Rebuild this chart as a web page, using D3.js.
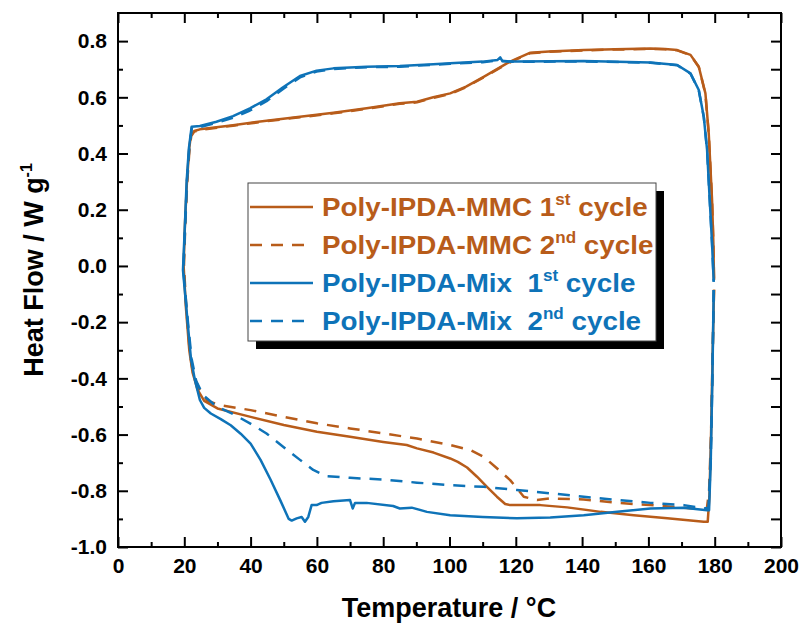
<!DOCTYPE html>
<html>
<head>
<meta charset="utf-8">
<script src="https://cdn.jsdelivr.net/npm/d3@7"></script>
<style>
  body { margin: 0; background: #fff; }
  text { font-family: "Liberation Sans", Arial, sans-serif; font-weight: bold; }
</style>
</head>
<body>
<div id="chart"></div>
<script>
// ---- data (temperature in °C, heat flow in W/g) ----
// each loop: right edge -> cooling branch (bottom) -> left edge -> heating branch (top)
const mmc1T = [179.8,179.4,178.9,178.4,177.9,176.7,165.7,155.6,145.6,135.5,127.4,118.3,116.8,114.3,111.3,108.3,105.3,102.5,100.2,95.2,90.2,87.1,80,70,60,50,40,30,26,24,22.5,21.5,20.5,19.8,20.2,20.8,21.5,22,23,24.7,34.7,44.8,54.9,65,75,85,90.2,95.1,100.2,105,110.3,117.3,120.3,124.4,130,140.5,150,160.6,165,168.7,172.7,175.2,177.2,178.2,179.2,179.6,179.8];
const mmc1H = [-0.085,-0.3,-0.6,-0.82,-0.91,-0.91,-0.898,-0.887,-0.875,-0.859,-0.851,-0.851,-0.847,-0.821,-0.786,-0.75,-0.717,-0.697,-0.685,-0.664,-0.649,-0.637,-0.626,-0.608,-0.59,-0.566,-0.537,-0.507,-0.48,-0.44,-0.38,-0.3,-0.15,0,0.15,0.3,0.42,0.465,0.48,0.486,0.501,0.517,0.531,0.545,0.561,0.579,0.584,0.6,0.614,0.638,0.673,0.721,0.738,0.759,0.763,0.768,0.771,0.774,0.772,0.768,0.751,0.709,0.614,0.472,0.235,0.08,-0.05];

const mmc2T = [179.8,179.4,178.9,178.3,177.6,176.7,170.7,160.6,150.6,140.5,130.4,126.4,122.4,118.3,114.3,110.3,106.3,100.2,90.2,80,70,60,50,40,30.7,27,24.5,22.6,21.6,20.6,19.9,20.3,20.9,21.6,22.1,23,24.7,34.7,44.8,54.9,65,75,85,90.2,95.1,100.2,105,110.3,117.3,120.3,124.4,130,140.5,150,160.6,165,168.7,172.7,175.2,177.2,178.2,179.2,179.6,179.8];
const mmc2H = [-0.085,-0.3,-0.6,-0.8,-0.866,-0.866,-0.86,-0.851,-0.843,-0.831,-0.827,-0.833,-0.821,-0.762,-0.72,-0.679,-0.655,-0.637,-0.614,-0.596,-0.578,-0.56,-0.537,-0.513,-0.495,-0.48,-0.44,-0.38,-0.3,-0.15,0,0.15,0.3,0.42,0.462,0.478,0.484,0.499,0.515,0.529,0.543,0.559,0.577,0.582,0.598,0.612,0.636,0.671,0.719,0.736,0.757,0.762,0.767,0.77,0.772,0.771,0.767,0.75,0.708,0.612,0.47,0.235,0.08,-0.05];

const mix1T = [179.7,179.3,178.8,178.3,177.7,170.7,160.6,150.6,140.5,130.4,120.3,110,100.2,93.2,88.6,85,83,75,71.5,70.8,70,65,61.4,59.9,58.4,57.4,56.4,55.4,53.9,52.4,51.5,49,46,43,40,37,34,31,28,26,24.7,23.2,22,21,19.6,20.2,20.7,21.4,22.2,24.7,29.7,34.7,39.8,44.8,49.8,54.9,59.9,65,75,85,95.1,100.2,110,114.5,115.3,116,120.3,140.5,160.6,168.7,172.7,175.2,176.7,177.7,178.5,179.2,179.7];
const mix1H = [-0.086,-0.4,-0.7,-0.869,-0.869,-0.86,-0.863,-0.875,-0.887,-0.895,-0.898,-0.893,-0.887,-0.875,-0.86,-0.863,-0.854,-0.843,-0.843,-0.863,-0.833,-0.837,-0.843,-0.851,-0.851,-0.893,-0.91,-0.893,-0.898,-0.906,-0.9,-0.835,-0.76,-0.69,-0.632,-0.597,-0.567,-0.545,-0.525,-0.505,-0.477,-0.406,-0.33,-0.2,-0.015,0.15,0.3,0.42,0.495,0.498,0.513,0.533,0.561,0.593,0.636,0.676,0.695,0.703,0.709,0.711,0.718,0.721,0.727,0.733,0.742,0.728,0.727,0.729,0.724,0.715,0.685,0.626,0.531,0.413,0.235,0.08,-0.056];

const mix2T = [179.7,179.3,178.8,178.1,176.7,170.7,160.6,150.6,140.5,130.4,120.3,110.3,100.2,90.2,80,70,62.9,58.9,54.9,49.8,44.8,39.8,34.7,29.7,25.7,23.6,22.2,21.1,19.7,20.3,20.8,21.5,22.3,24.7,29.7,34.7,39.8,44.8,49.8,54.9,59.9,65,75,85,95.1,100.2,110,114.5,120.3,140.5,160.6,168.7,172.7,175.2,176.7,177.7,178.5,179.2,179.7];
const mix2H = [-0.086,-0.4,-0.7,-0.86,-0.863,-0.851,-0.843,-0.833,-0.821,-0.809,-0.797,-0.786,-0.78,-0.771,-0.76,-0.754,-0.748,-0.726,-0.69,-0.643,-0.596,-0.56,-0.527,-0.5,-0.46,-0.41,-0.33,-0.2,-0.015,0.15,0.3,0.42,0.492,0.494,0.509,0.527,0.553,0.586,0.63,0.671,0.692,0.701,0.707,0.709,0.716,0.719,0.725,0.731,0.726,0.728,0.723,0.714,0.684,0.625,0.53,0.412,0.235,0.08,-0.056];

const seriesNames = ["Poly-IPDA-MMC 1", "Poly-IPDA-MMC 2", "Poly-IPDA-Mix  1", "Poly-IPDA-Mix  2"];
const seriesSup = ["st", "nd", "st", "nd"];
const seriesColors = ["#B85C1A", "#B85C1A", "#0E73B8", "#0E73B8"];
const seriesDash = [null, "12,9", null, "12,9"];

const xTicks = [0, 20, 40, 60, 80, 100, 120, 140, 160, 180, 200];
const yTicks = [-1.0, -0.8, -0.6, -0.4, -0.2, 0.0, 0.2, 0.4, 0.6, 0.8];

// ---- layout ----
const W = 802, H = 627;
const margin = {top: 13, right: 21, bottom: 80, left: 118};
const w = W - margin.left - margin.right;
const h = H - margin.top - margin.bottom;

const svg = d3.select("#chart").append("svg")
  .attr("width", W).attr("height", H);

const g = svg.append("g").attr("transform", `translate(${margin.left},${margin.top})`);

const x = d3.scaleLinear().domain([0, 200]).range([0, w]);
const y = d3.scaleLinear().domain([-1.0, 0.9]).range([h, 0]);

// minor ticks
const xMinor = d3.range(10, 200, 20);
const yMinor = d3.range(-0.9, 0.9, 0.2).map(v => +v.toFixed(1));

function styleAxis(sel) {
  sel.select(".domain").remove();
  sel.selectAll("line").attr("stroke", "#000").attr("stroke-width", 2);
  sel.selectAll("text").attr("fill", "#000").style("font-size", "21px").style("font-weight", "bold");
}

// bottom
g.append("g").attr("transform", `translate(0,${h})`)
  .call(d3.axisBottom(x).tickValues(xTicks).tickSizeInner(-10).tickPadding(11).tickFormat(d3.format("d")))
  .call(styleAxis);
g.append("g").attr("transform", `translate(0,${h})`)
  .call(d3.axisBottom(x).tickValues(xMinor).tickSizeInner(-5).tickFormat(""))
  .call(styleAxis);
// top
g.append("g")
  .call(d3.axisTop(x).tickValues(xTicks).tickSizeInner(-10).tickFormat(""))
  .call(styleAxis);
g.append("g")
  .call(d3.axisTop(x).tickValues(xMinor).tickSizeInner(-5).tickFormat(""))
  .call(styleAxis);
// left
g.append("g")
  .call(d3.axisLeft(y).tickValues(yTicks).tickSizeInner(-10).tickPadding(11).tickFormat(d3.format(".1f")))
  .call(styleAxis);
g.append("g")
  .call(d3.axisLeft(y).tickValues(yMinor).tickSizeInner(-5).tickFormat(""))
  .call(styleAxis);
// right
g.append("g").attr("transform", `translate(${w},0)`)
  .call(d3.axisRight(y).tickValues(yTicks.concat(yMinor)).tickSizeInner(-10).tickFormat(""))
  .call(styleAxis);

// y labels use a hyphen like the original
g.selectAll("text").each(function() {
  const t = d3.select(this);
  t.text(t.text().replace("−", "-"));
});

// frame
g.append("rect").attr("width", w).attr("height", h)
  .attr("fill", "none").attr("stroke", "#000").attr("stroke-width", 2);

// curves
const loops = [[mmc1T, mmc1H], [mmc2T, mmc2H], [mix1T, mix1H], [mix2T, mix2H]];
const line = d3.line().x(d => x(d[0])).y(d => y(d[1]));
const drawOrder = [0, 1, 3, 2];
drawOrder.forEach(i => {
  const pts = loops[i][0].map((t, k) => [t, loops[i][1][k]]);
  g.append("path").datum(pts)
    .attr("d", line)
    .attr("fill", "none")
    .attr("stroke", seriesColors[i])
    .attr("stroke-width", 2.5)
    .attr("stroke-linejoin", "round")
    .attr("stroke-dasharray", seriesDash[i]);
});

// legend
const lg = svg.append("g").attr("transform", "translate(248,183)");
lg.append("rect").attr("x", 8).attr("y", 8).attr("width", 408).attr("height", 158).attr("fill", "#000");
lg.append("rect").attr("width", 408).attr("height", 158).attr("fill", "#fff").attr("stroke", "#444").attr("stroke-width", 1);
seriesNames.forEach((name, i) => {
  const yy = 24 + i * 38;
  lg.append("line").attr("x1", 2).attr("x2", 65).attr("y1", yy).attr("y2", yy)
    .attr("stroke", seriesColors[i]).attr("stroke-width", 2.5)
    .attr("stroke-dasharray", seriesDash[i]);
  const t = lg.append("text").attr("transform", `translate(74,${yy + 9}) scale(1.07,1)`)
    .attr("fill", seriesColors[i]).style("font-size", "26px")
    .style("white-space", "pre").attr("xml:space", "preserve");
  t.append("tspan").text(name);
  t.append("tspan").text(seriesSup[i]).style("font-size", "16px").attr("dy", -11);
  t.append("tspan").text(" cycle").attr("dy", 11);
});

// axis titles
svg.append("text").attr("x", 449).attr("y", 617).attr("text-anchor", "middle")
  .style("font-size", "27px").attr("fill", "#000").text("Temperature / °C");

const yt = svg.append("text").attr("transform", "translate(43,270) rotate(-90)")
  .attr("text-anchor", "middle").style("font-size", "27px").attr("fill", "#000");
yt.append("tspan").text("Heat Flow / W g");
yt.append("tspan").text("-1").style("font-size", "16px").attr("dy", -11);
</script>
</body>
</html>
